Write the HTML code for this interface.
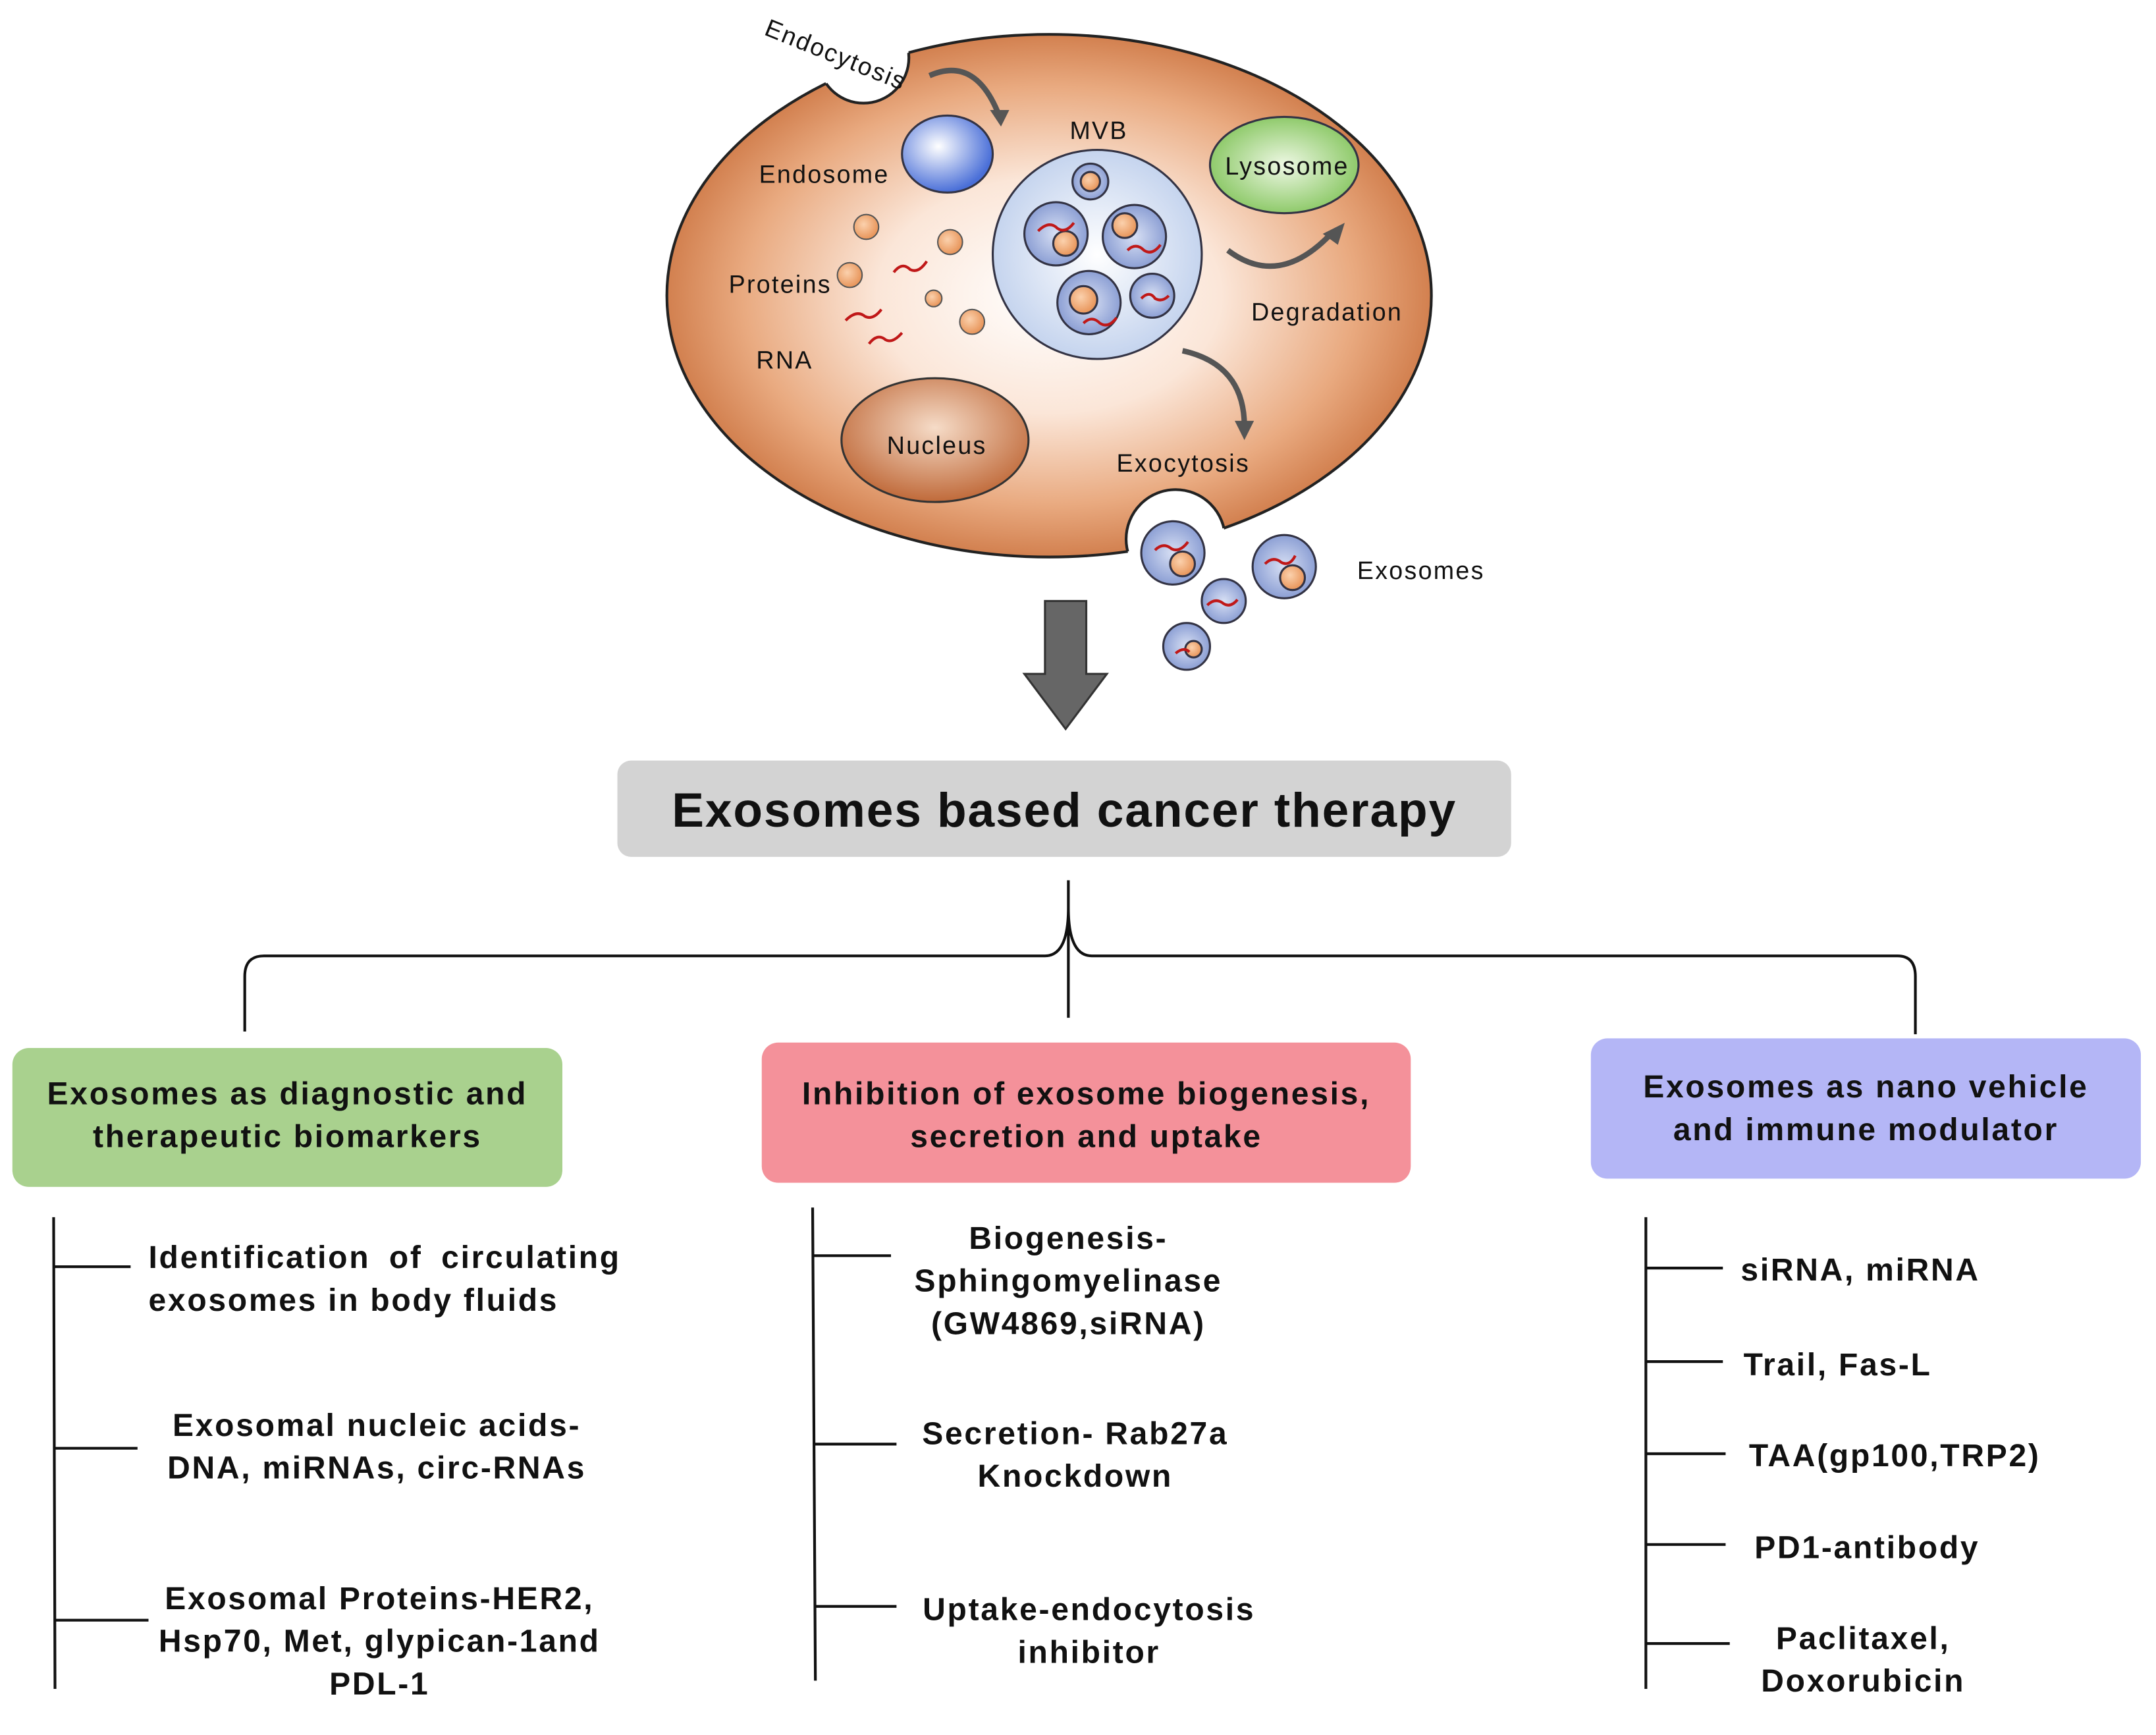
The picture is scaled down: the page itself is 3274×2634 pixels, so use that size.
<!DOCTYPE html>
<html><head><meta charset="utf-8"><style>
html,body{margin:0;padding:0;background:#fff}
svg{display:block}
text{font-family:"Liberation Sans",Arial,sans-serif;fill:#111}
.b{font-weight:bold;font-size:23px;letter-spacing:1.3px}
.s{font-size:18px;letter-spacing:1.1px}
</style></head><body>
<svg width="3274" height="2634" viewBox="0 0 1568 1261.5" preserveAspectRatio="none" xmlns="http://www.w3.org/2000/svg">
<defs>
<radialGradient id="cell" cx="0.5" cy="0.5" r="0.5">
<stop offset="0" stop-color="#fff"/><stop offset="0.45" stop-color="#fbe6d8"/><stop offset="0.8" stop-color="#e9aa80"/><stop offset="1" stop-color="#d2804f"/></radialGradient>
<radialGradient id="blue" cx="0.4" cy="0.4" r="0.6"><stop offset="0" stop-color="#fff"/><stop offset="1" stop-color="#4a6fd8"/></radialGradient>
<radialGradient id="mvb" cx="0.5" cy="0.5" r="0.5"><stop offset="0" stop-color="#fff"/><stop offset="1" stop-color="#c5d4ee"/></radialGradient>
<radialGradient id="ves" cx="0.5" cy="0.5" r="0.5"><stop offset="0" stop-color="#d8e0f4"/><stop offset="1" stop-color="#8c9fd4"/></radialGradient>
<radialGradient id="green" cx="0.5" cy="0.5" r="0.5"><stop offset="0" stop-color="#eef8e4"/><stop offset="1" stop-color="#8fca6b"/></radialGradient>
<radialGradient id="nuc" cx="0.5" cy="0.4" r="0.6"><stop offset="0" stop-color="#f6dcc8"/><stop offset="1" stop-color="#c06a3a"/></radialGradient>
<radialGradient id="or" cx="0.4" cy="0.4" r="0.6"><stop offset="0" stop-color="#fbd1ad"/><stop offset="1" stop-color="#e8955a"/></radialGradient>
<clipPath id="cellclip"><ellipse cx="763" cy="215" rx="278" ry="190"/></clipPath>
</defs>
<!-- cell -->
<ellipse cx="763" cy="215" rx="278" ry="190" fill="url(#cell)" stroke="#222" stroke-width="2"/>
<circle cx="628" cy="42" r="33" fill="#fff"/>
<circle cx="628" cy="42" r="33" fill="none" stroke="#222" stroke-width="2" clip-path="url(#cellclip)"/>
<circle cx="855" cy="392" r="36" fill="#fff"/>
<circle cx="855" cy="392" r="36" fill="none" stroke="#222" stroke-width="2" clip-path="url(#cellclip)"/>
<text class="s" x="555" y="25" transform="rotate(22 555 25)">Endocytosis</text>
<path d="M676 55 Q710 40 727 85" fill="none" stroke="#555" stroke-width="4"/>
<polygon points="720,80 734,80 728,92" fill="#555"/>
<ellipse cx="689" cy="112" rx="33" ry="28" fill="url(#blue)" stroke="#334" stroke-width="1.5"/>
<text class="s" x="552" y="133">Endosome</text>
<text class="s" x="778" y="101">MVB</text>
<circle cx="798" cy="185" r="76" fill="url(#mvb)" stroke="#334" stroke-width="1.5"/>
<g stroke="#334" stroke-width="1.5">
<circle cx="793" cy="132" r="13" fill="url(#ves)"/><circle cx="768" cy="170" r="23" fill="url(#ves)"/>
<circle cx="825" cy="172" r="23" fill="url(#ves)"/><circle cx="792" cy="220" r="23" fill="url(#ves)"/>
<circle cx="838" cy="215" r="16" fill="url(#ves)"/>
<circle cx="793" cy="132" r="7" fill="url(#or)"/><circle cx="775" cy="177" r="9" fill="url(#or)"/>
<circle cx="818" cy="164" r="9" fill="url(#or)"/><circle cx="788" cy="218" r="10" fill="url(#or)"/>
</g>
<g stroke="#c01818" stroke-width="2" fill="none">
<path d="M755 168 q8 -8 14 -2 q6 4 12 -4"/><path d="M820 182 q6 -6 12 0 q6 4 12 -4"/><path d="M788 235 q6 -6 12 0 q6 4 12 -4"/><path d="M830 217 q6 -6 10 0 q5 3 10 -2"/>
<path d="M650 198 q6 -8 12 -2 q6 3 12 -6"/><path d="M615 233 q8 -8 14 -3 q6 3 12 -5"/><path d="M632 250 q6 -8 12 -3 q5 3 12 -5"/>
</g>
<g stroke="#555" stroke-width="1">
<circle cx="630" cy="165" r="9" fill="url(#or)"/><circle cx="691" cy="176" r="9" fill="url(#or)"/>
<circle cx="618" cy="200" r="9" fill="url(#or)"/><circle cx="679" cy="217" r="6" fill="url(#or)"/>
<circle cx="707" cy="234" r="9" fill="url(#or)"/>
</g>
<text class="s" x="530" y="213">Proteins</text>
<text class="s" x="550" y="268">RNA</text>
<ellipse cx="934" cy="120" rx="54" ry="35" fill="url(#green)" stroke="#334" stroke-width="1.5"/>
<text class="s" x="891" y="127">Lysosome</text>
<path d="M893 182 Q930 210 968 170" fill="none" stroke="#555" stroke-width="4"/>
<polygon points="962,170 978,162 973,178" fill="#555"/>
<text class="s" x="910" y="233">Degradation</text>
<path d="M860 255 Q905 265 905 310" fill="none" stroke="#555" stroke-width="4"/>
<polygon points="898,306 912,306 905,320" fill="#555"/>
<ellipse cx="680" cy="320" rx="68" ry="45" fill="url(#nuc)" stroke="#333" stroke-width="1.5"/>
<text class="s" x="645" y="330">Nucleus</text>
<text class="s" x="812" y="343">Exocytosis</text>
<g stroke="#334" stroke-width="1.5">
<circle cx="853" cy="402" r="23" fill="url(#ves)"/><circle cx="934" cy="412" r="23" fill="url(#ves)"/>
<circle cx="890" cy="437" r="16" fill="url(#ves)"/><circle cx="863" cy="470" r="17" fill="url(#ves)"/>
<circle cx="860" cy="410" r="9" fill="url(#or)"/><circle cx="940" cy="420" r="9" fill="url(#or)"/><circle cx="868" cy="472" r="6" fill="url(#or)"/>
</g>
<g stroke="#c01818" stroke-width="2" fill="none">
<path d="M840 400 q6 -6 12 -1 q6 3 12 -5"/><path d="M920 410 q6 -6 12 -1 q6 3 10 -5"/><path d="M878 440 q6 -6 12 -1 q5 3 10 -3"/><path d="M855 475 q6 -5 10 -1"/>
</g>
<text class="s" x="987" y="421">Exosomes</text>
<!-- big arrow -->
<polygon points="760,437 790,437 790,490 805,490 775,530 745,490 760,490" fill="#666" stroke="#333" stroke-width="1.5"/>
<!-- title -->
<rect x="449" y="553" width="650" height="70" rx="10" fill="#d3d3d3"/>
<text x="774" y="601" text-anchor="middle" style="font-weight:bold;font-size:35px;letter-spacing:0.9px">Exosomes based cancer therapy</text>
<!-- connector -->
<path d="M777 640 L777 740 M777 660 Q777 695 760 695 L192 695 Q178 695 178 710 L178 750 M777 660 Q777 695 794 695 L1380 695 Q1393 695 1393 710 L1393 752" fill="none" stroke="#111" stroke-width="2"/>
<!-- boxes -->
<rect x="9" y="762" width="400" height="101" rx="12" fill="#a9d18e"/>
<text class="b" x="209" y="803" text-anchor="middle">Exosomes as diagnostic and</text>
<text class="b" x="209" y="834" text-anchor="middle">therapeutic biomarkers</text>
<rect x="554" y="758" width="472" height="102" rx="12" fill="#f4919a"/>
<text class="b" x="790" y="803" text-anchor="middle">Inhibition of exosome biogenesis,</text>
<text class="b" x="790" y="834" text-anchor="middle">secretion and uptake</text>
<rect x="1157" y="755" width="400" height="102" rx="12" fill="#b4b6f6"/>
<text class="b" x="1357" y="798" text-anchor="middle">Exosomes as nano vehicle</text>
<text class="b" x="1357" y="829" text-anchor="middle">and immune modulator</text>
<!-- lists -->
<g stroke="#111" stroke-width="2" fill="none">
<path d="M39 885 L40 1228 M40 921 L95 921 M40 1053 L100 1053 M40 1178 L108 1178"/>
<path d="M591 878 L593 1222 M592 913 L648 913 M592 1050 L652 1050 M592 1168 L652 1168"/>
<path d="M1197 885 L1197 1228 M1197 922 L1253 922 M1197 990 L1253 990 M1197 1057 L1255 1057 M1197 1123 L1255 1123 M1197 1195 L1258 1195"/>
</g>
<text class="b" x="108" y="922" style="word-spacing:6px">Identification of circulating</text>
<text class="b" x="108" y="953">exosomes in body fluids</text>
<text class="b" x="274" y="1044" text-anchor="middle">Exosomal nucleic acids-</text>
<text class="b" x="274" y="1075" text-anchor="middle">DNA, miRNAs, circ-RNAs</text>
<text class="b" x="276" y="1170" text-anchor="middle">Exosomal Proteins-HER2,</text>
<text class="b" x="276" y="1201" text-anchor="middle">Hsp70, Met, glypican-1and</text>
<text class="b" x="276" y="1232" text-anchor="middle">PDL-1</text>
<text class="b" x="777" y="908" text-anchor="middle">Biogenesis-</text>
<text class="b" x="777" y="939" text-anchor="middle">Sphingomyelinase</text>
<text class="b" x="777" y="970" text-anchor="middle">(GW4869,siRNA)</text>
<text class="b" x="782" y="1050" text-anchor="middle">Secretion- Rab27a</text>
<text class="b" x="782" y="1081" text-anchor="middle">Knockdown</text>
<text class="b" x="792" y="1178" text-anchor="middle">Uptake-endocytosis</text>
<text class="b" x="792" y="1209" text-anchor="middle">inhibitor</text>
<text class="b" x="1266" y="931">siRNA, miRNA</text>
<text class="b" x="1268" y="1000">Trail, Fas-L</text>
<text class="b" x="1272" y="1066">TAA(gp100,TRP2)</text>
<text class="b" x="1276" y="1133">PD1-antibody</text>
<text class="b" x="1355" y="1199" text-anchor="middle">Paclitaxel,</text>
<text class="b" x="1355" y="1230" text-anchor="middle">Doxorubicin</text>
</svg>
</body></html>
